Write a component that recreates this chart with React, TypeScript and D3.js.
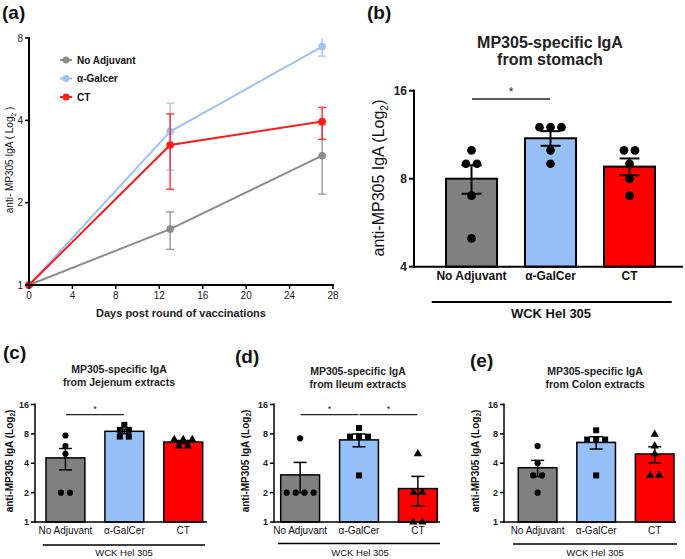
import React from "react";
import * as d3 from "d3";

const FONT = "'Liberation Sans', Arial, Helvetica, sans-serif";

// ---------- Panel (a): time course ----------
const daysA = [0, 13, 27];
const dayTicksA = [0, 4, 8, 12, 16, 20, 24, 28];
const yTicksA = [1, 2, 4, 8];
const legendA = ["No Adjuvant", "α-Galcer", "CT"];
const noAdjMeanA = [1, 1.6, 2.97];
const noAdjLowA = [1, 1.35, 2.15];
const noAdjHighA = [1, 1.85, 3.85];
const galMeanA = [1, 3.64, 7.44];
const galLowA = [1, 2.63, 6.87];
const galHighA = [1, 4.62, 8.1];
const ctMeanA = [1, 3.25, 3.96];
const ctLowA = [1, 2.24, 3.41];
const ctHighA = [1, 4.22, 4.46];

// ---------- Bar panels ----------
const groups = ["No Adjuvant", "α-GalCer", "CT"];
const groupLabel = "WCK Hel 305";
const yTicksB = [4, 8, 16];
const yTicksSmall = [1, 2, 4, 8, 16];

const stomachNoAdj = [10, 9, 9, 7, 5];
const stomachGal = [12, 12, 12, 10, 9];
const stomachCT = [10, 10, 9, 8, 7];

const jejunumNoAdj = [7.7, 6, 5, 2, 2];
const jejunumGal = [9.9, 8.8, 8.8, 7.5, 7.5];
const jejunumCT = [7, 7, 7, 6, 6];

const ileumNoAdj = [7.2, 2, 2, 2, 2];
const ileumGal = [9.2, 7.5, 7.5, 7.5, 3];
const ileumCT = [5, 2, 2, 1, 1];

const colonNoAdj = [6, 4, 3, 3, 2];
const colonGal = [8.7, 7, 7, 7, 3];
const colonCT = [7.9, 6, 5, 3, 3];

const LINE_COLORS = ["#8c8c8c", "#9dc3f3", "#ff1a1a"];
const BAR_FILLS = ["#808080", "#94c0f7", "#ff0000"];

function YLabel({ x, y, size, bold, text, close }) {
  return (
    <text
      transform={`translate(${x},${y}) rotate(-90)`}
      textAnchor="middle"
      fontSize={size}
      fontWeight={bold ? "bold" : "normal"}
      fill="#111"
    >
      {text}
      <tspan fontSize={size * 0.65} dy={size * 0.25}>2</tspan>
      <tspan dy={-size * 0.25}>{close}</tspan>
    </text>
  );
}

function PanelA() {
  const x = d3.scaleLinear().domain([0, 28]).range([29, 333]);
  const y = d3.scaleLog().base(2).domain([1, 8]).range([285, 38]);
  const series = [
    { mean: noAdjMeanA, lo: noAdjLowA, hi: noAdjHighA },
    { mean: galMeanA, lo: galLowA, hi: galHighA },
    { mean: ctMeanA, lo: ctLowA, hi: ctHighA },
  ];
  const line = d3
    .line<number>()
    .x((_, i) => x(daysA[i]))
    .y((d) => y(d));
  const cap = 4;
  return (
    <g>
      <text x={2} y={19} fontSize={19} fontWeight="bold" fill="#111">(a)</text>
      {series.map((s, si) => (
        <g key={si}>
          <path d={line(s.mean) || ""} fill="none" stroke={LINE_COLORS[si]} strokeWidth={2} />
          {s.mean.map((m, i) => {
            if (s.hi[i] === s.lo[i]) return null;
            const cx = x(daysA[i]);
            const hiClipped = s.hi[i] > 8;
            const yHi = y(Math.min(s.hi[i], 8));
            const yLo = y(s.lo[i]);
            return (
              <g key={i} stroke={LINE_COLORS[si]} strokeWidth={1.5} opacity={0.85}>
                <line x1={cx} x2={cx} y1={yHi} y2={yLo} />
                {!hiClipped && <line x1={cx - cap} x2={cx + cap} y1={yHi} y2={yHi} />}
                <line x1={cx - cap} x2={cx + cap} y1={yLo} y2={yLo} />
              </g>
            );
          })}
          {s.mean.map((m, i) => (
            <circle key={"c" + i} cx={x(daysA[i])} cy={y(m)} r={3.8} fill={LINE_COLORS[si]} />
          ))}
        </g>
      ))}
      {/* axes */}
      <line x1={29} x2={29} y1={37} y2={286} stroke="#000" strokeWidth={2} />
      <line x1={28} x2={334} y1={285} y2={285} stroke="#000" strokeWidth={2} />
      {yTicksA.map((t) => (
        <g key={t}>
          <line x1={25} x2={29} y1={y(t)} y2={y(t)} stroke="#000" strokeWidth={1.5} />
          <text x={23} y={y(t)} dy="0.35em" textAnchor="end" fontSize={10} fill="#222">{t}</text>
        </g>
      ))}
      {dayTicksA.map((t) => (
        <g key={t}>
          <line x1={x(t)} x2={x(t)} y1={285} y2={289} stroke="#000" strokeWidth={1.5} />
          <text x={x(t)} y={299} textAnchor="middle" fontSize={10} fill="#222">{t}</text>
        </g>
      ))}
      <text x={181} y={317} textAnchor="middle" fontSize={11} fontWeight="bold" fill="#222">
        Days post round of vaccinations
      </text>
      <YLabel x={13} y={160} size={10} bold={false} text="anti- MP305 IgA ( Log" close=" )" />
      {/* legend */}
      {legendA.map((l, i) => {
        const ly = 60 + i * 18.5;
        return (
          <g key={l}>
            <line x1={60} x2={72} y1={ly} y2={ly} stroke={LINE_COLORS[i]} strokeWidth={2} />
            <circle cx={66} cy={ly} r={3.5} fill={LINE_COLORS[i]} />
            <text x={77} y={ly} dy="0.35em" fontSize={10} fontWeight="bold" fill="#111">{l}</text>
          </g>
        );
      })}
    </g>
  );
}

function spreadOffsets(vals: number[], spacing: number) {
  return vals.map((v, i) => {
    const same = vals.map((w, j) => (w === v ? j : -1)).filter((j) => j >= 0);
    const k = same.indexOf(i);
    return (k - (same.length - 1) / 2) * spacing;
  });
}

function BarPanel(p) {
  const y = d3.scaleLog().base(2).domain(p.domain).range([p.yBottom, p.yTop]);
  const x = d3.scaleBand().domain(groups).range(p.band).paddingInner(p.pad);
  const bw = x.bandwidth();
  const stats = p.series.map((vals) => {
    const m = d3.mean(vals) as number;
    const se = (d3.deviation(vals) as number) / Math.sqrt(vals.length);
    return { m, lo: m - se, hi: m + se };
  });
  const symTypes = p.shapes.map((s) =>
    s === "square" ? d3.symbolSquare : s === "triangle" ? d3.symbolTriangle : d3.symbolCircle
  );
  const tickFont = p.big ? 12 : 9;
  return (
    <g fontFamily={FONT}>
      <text x={p.labelX} y={p.labelY} fontSize={19} fontWeight="bold" fill="#111">{p.label}</text>
      <text x={p.titleX} y={p.titleY1} textAnchor="middle" fontSize={p.titleSize} fontWeight="bold" fill="#222">
        {p.title[0]}
      </text>
      <text x={p.titleX} y={p.titleY2} textAnchor="middle" fontSize={p.titleSize} fontWeight="bold" fill="#222">
        {p.title[1]}
      </text>
      {groups.map((g, i) => {
        const s = stats[i];
        const cx = (x(g) as number) + bw / 2;
        const offs = spreadOffsets(p.series[i], p.spread);
        const sym = d3.symbol().type(symTypes[i]).size(p.symSize[i])();
        return (
          <g key={g}>
            <rect
              x={x(g)}
              y={y(s.m)}
              width={bw}
              height={p.yBottom - y(s.m)}
              fill={BAR_FILLS[i]}
              stroke="#000"
              strokeWidth={p.strokeW}
            />
            <g stroke="#000" strokeWidth={p.strokeW}>
              <line x1={cx} x2={cx} y1={y(s.hi)} y2={y(s.lo)} />
              <line x1={cx - p.capW / 2} x2={cx + p.capW / 2} y1={y(s.hi)} y2={y(s.hi)} />
              <line x1={cx - p.capW / 2} x2={cx + p.capW / 2} y1={y(s.lo)} y2={y(s.lo)} />
            </g>
            {p.series[i].map((v, j) => (
              <path key={j} d={sym || ""} transform={`translate(${cx + offs[j]},${y(v)})`} fill="#000" />
            ))}
            <text
              x={cx}
              y={p.xLabelY}
              textAnchor="middle"
              fontSize={p.xLabelSize}
              fontWeight={p.big ? "bold" : "normal"}
              fill="#111"
            >
              {g}
            </text>
          </g>
        );
      })}
      {/* axes */}
      <line x1={p.x0} x2={p.x0} y1={p.yTop - 1} y2={p.yBottom + 1} stroke="#000" strokeWidth={p.axisW} />
      <line x1={p.x0 - 1} x2={p.xEnd} y1={p.yBottom} y2={p.yBottom} stroke="#000" strokeWidth={p.axisW} />
      {p.ticks.map((t) => (
        <g key={t}>
          <line x1={p.x0 - p.tickLen} x2={p.x0} y1={y(t)} y2={y(t)} stroke="#000" strokeWidth={p.axisW} />
          <text
            x={p.x0 - p.tickLen - 2}
            y={y(t)}
            dy="0.35em"
            textAnchor="end"
            fontSize={tickFont}
            fontWeight="bold"
            fill="#222"
          >
            {t}
          </text>
        </g>
      ))}
      {/* significance */}
      {p.sig.map(([a, b], k) => {
        const xa = (x(groups[a]) as number) + bw / 2;
        const xb = (x(groups[b]) as number) + bw / 2;
        const yy = y(p.sigValue);
        return (
          <g key={k}>
            <line x1={xa + 0.5} x2={xb - 0.5} y1={yy} y2={yy} stroke="#222" strokeWidth={p.big ? 1.5 : 1.2} />
            <text x={(xa + xb) / 2} y={yy - 3} textAnchor="middle" fontSize={p.big ? 12 : 9} fill="#222">*</text>
          </g>
        );
      })}
      <line x1={p.gx1} x2={p.gx2} y1={p.gy} y2={p.gy} stroke="#000" strokeWidth={p.big ? 2 : 1.3} />
      <text
        x={p.gText}
        y={p.gTextY}
        textAnchor="middle"
        fontSize={p.big ? 13 : 9.5}
        fontWeight={p.big ? "bold" : "normal"}
        fill="#111"
      >
        {groupLabel}
      </text>
      <YLabel
        x={p.yLabelX}
        y={p.yLabelY}
        size={p.yLabelSize}
        bold={!p.big}
        text="anti-MP305 IgA (Log"
        close=")"
      />
    </g>
  );
}

const smallCommon = {
  domain: [1, 16],
  ticks: yTicksSmall,
  yTop: 404.5,
  yBottom: 522,
  pad: 0.34,
  shapes: ["circle", "square", "triangle"],
  symSize: [30, 36, 30],
  spread: 9,
  capW: 13,
  strokeW: 1.5,
  axisW: 1.5,
  tickLen: 4,
  titleSize: 10.5,
  xLabelY: 534,
  xLabelSize: 10,
  gTextY: 556,
  yLabelSize: 10,
  yLabelY: 461,
  sigValue: 12.6,
  big: false,
};

export default function App() {
  return (
    <svg
      width={685}
      height={559}
      style={{ position: "absolute", left: 0, top: 0, background: "#fff" }}
      fontFamily={FONT}
    >
      <rect width={685} height={559} fill="#fff" />
      <PanelA />
      <BarPanel
        big
        label="(b)"
        labelX={367}
        labelY={19}
        title={["MP305-specific IgA", "from stomach"]}
        titleX={550}
        titleY1={48}
        titleY2={65}
        titleSize={16}
        domain={[4, 16]}
        ticks={yTicksB}
        x0={414}
        xEnd={683}
        yTop={90.7}
        yBottom={266.7}
        band={[446, 655]}
        pad={0.354}
        series={[stomachNoAdj, stomachGal, stomachCT]}
        shapes={["circle", "circle", "circle"]}
        symSize={[60, 60, 60]}
        spread={11}
        capW={20}
        strokeW={2}
        axisW={2}
        tickLen={5}
        sig={[[0, 1]]}
        sigValue={15}
        xLabelY={280}
        xLabelSize={12}
        gx1={431.7}
        gx2={671.7}
        gy={302}
        gText={551}
        gTextY={318}
        yLabelX={384}
        yLabelY={178}
        yLabelSize={16}
      />
      <BarPanel
        {...smallCommon}
        label="(c)"
        labelX={3}
        labelY={359}
        title={["MP305-specific IgA", "from Jejenum extracts"]}
        titleX={119}
        titleY1={373}
        titleY2={385.5}
        x0={35}
        xEnd={207}
        band={[46, 202.7]}
        series={[jejunumNoAdj, jejunumGal, jejunumCT]}
        sig={[[0, 1]]}
        gx1={42.7}
        gx2={205}
        gy={545}
        gText={124}
        yLabelX={12.5}
      />
      <BarPanel
        {...smallCommon}
        label="(d)"
        labelX={235}
        labelY={363}
        title={["MP305-specific IgA", "from Ileum extracts"]}
        titleX={358}
        titleY1={375}
        titleY2={387.5}
        x0={274}
        xEnd={440}
        band={[280.7, 437.3]}
        series={[ileumNoAdj, ileumGal, ileumCT]}
        sig={[[0, 1], [1, 2]]}
        gx1={278}
        gx2={440}
        gy={543.5}
        gText={360}
        yLabelX={248.5}
      />
      <BarPanel
        {...smallCommon}
        label="(e)"
        labelX={470}
        labelY={367}
        title={["MP305-specific IgA", "from Colon extracts"]}
        titleX={595}
        titleY1={375}
        titleY2={387.5}
        x0={504}
        xEnd={676}
        band={[518.3, 674]}
        series={[colonNoAdj, colonGal, colonCT]}
        sig={[]}
        gx1={513}
        gx2={677}
        gy={544}
        gText={595}
        yLabelX={478.5}
      />
    </svg>
  );
}
